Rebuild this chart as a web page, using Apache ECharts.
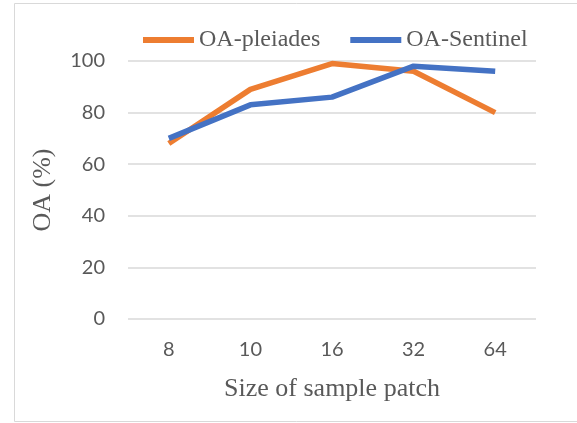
<!DOCTYPE html>
<html>
<head>
<meta charset="utf-8">
<script src="https://cdn.jsdelivr.net/npm/echarts@6/dist/echarts.min.js"></script>
<style>
  html, body { margin: 0; padding: 0; background: #fff; }
  #chart { width: 577px; height: 423px; }
</style>
</head>
<body>
<div id="chart"></div>
<script>
// patch sizes on the x axis
const patchSizes = ['8', '10', '16', '32', '64'];
// overall accuracy (%) per source
const oaPleiades = [68, 89, 99, 96, 80];
const oaSentinel = [70, 83, 86, 98, 96];

const chart = echarts.init(document.getElementById('chart'));

const tickFont = { fontFamily: 'Lato', fontSize: 20, color: '#595959' };
const titleFont = { fontFamily: 'Liberation Serif', fontSize: 26, color: '#595959' };

chart.setOption({
  animation: false,
  // thin frame like the Office chart area
  graphic: [{
    type: 'rect',
    shape: { x: 14.5, y: 3.5, width: 620, height: 418 },
    style: { fill: 'none', stroke: '#D9D9D9', lineWidth: 1 },
    silent: true
  }],
  grid: { left: 128, right: 41, top: 61, bottom: 104 },
  legend: {
    left: 138,
    top: 23,
    itemWidth: 51,
    itemHeight: 6,
    itemGap: 30,
    icon: 'rect',
    textStyle: { fontFamily: 'Liberation Serif', fontSize: 24, color: '#595959' },
    data: ['OA-pleiades', 'OA-Sentinel']
  },
  xAxis: {
    type: 'category',
    data: patchSizes,
    boundaryGap: true,
    axisLine: { show: false },
    axisTick: { show: false },
    axisLabel: Object.assign({ margin: 21 }, tickFont),
    name: 'Size of sample patch',
    nameLocation: 'middle',
    nameGap: 57,
    nameTextStyle: titleFont
  },
  yAxis: {
    type: 'value',
    min: 0,
    max: 100,
    interval: 20,
    axisLine: { show: false },
    axisTick: { show: false },
    axisLabel: Object.assign({ margin: 23 }, tickFont),
    splitLine: { lineStyle: { color: '#D9D9D9', width: 1.5 } },
    name: 'OA (%)',
    nameLocation: 'middle',
    nameGap: 72,
    nameTextStyle: titleFont
  },
  series: [
    {
      name: 'OA-pleiades',
      type: 'line',
      data: oaPleiades,
      showSymbol: false,
      symbol: 'none',
      color: '#ED7D31',
      lineStyle: { width: 5.5, color: '#ED7D31' }
    },
    {
      name: 'OA-Sentinel',
      type: 'line',
      data: oaSentinel,
      showSymbol: false,
      symbol: 'none',
      color: '#4472C4',
      lineStyle: { width: 5.5, color: '#4472C4' }
    }
  ]
});
</script>
</body>
</html>
